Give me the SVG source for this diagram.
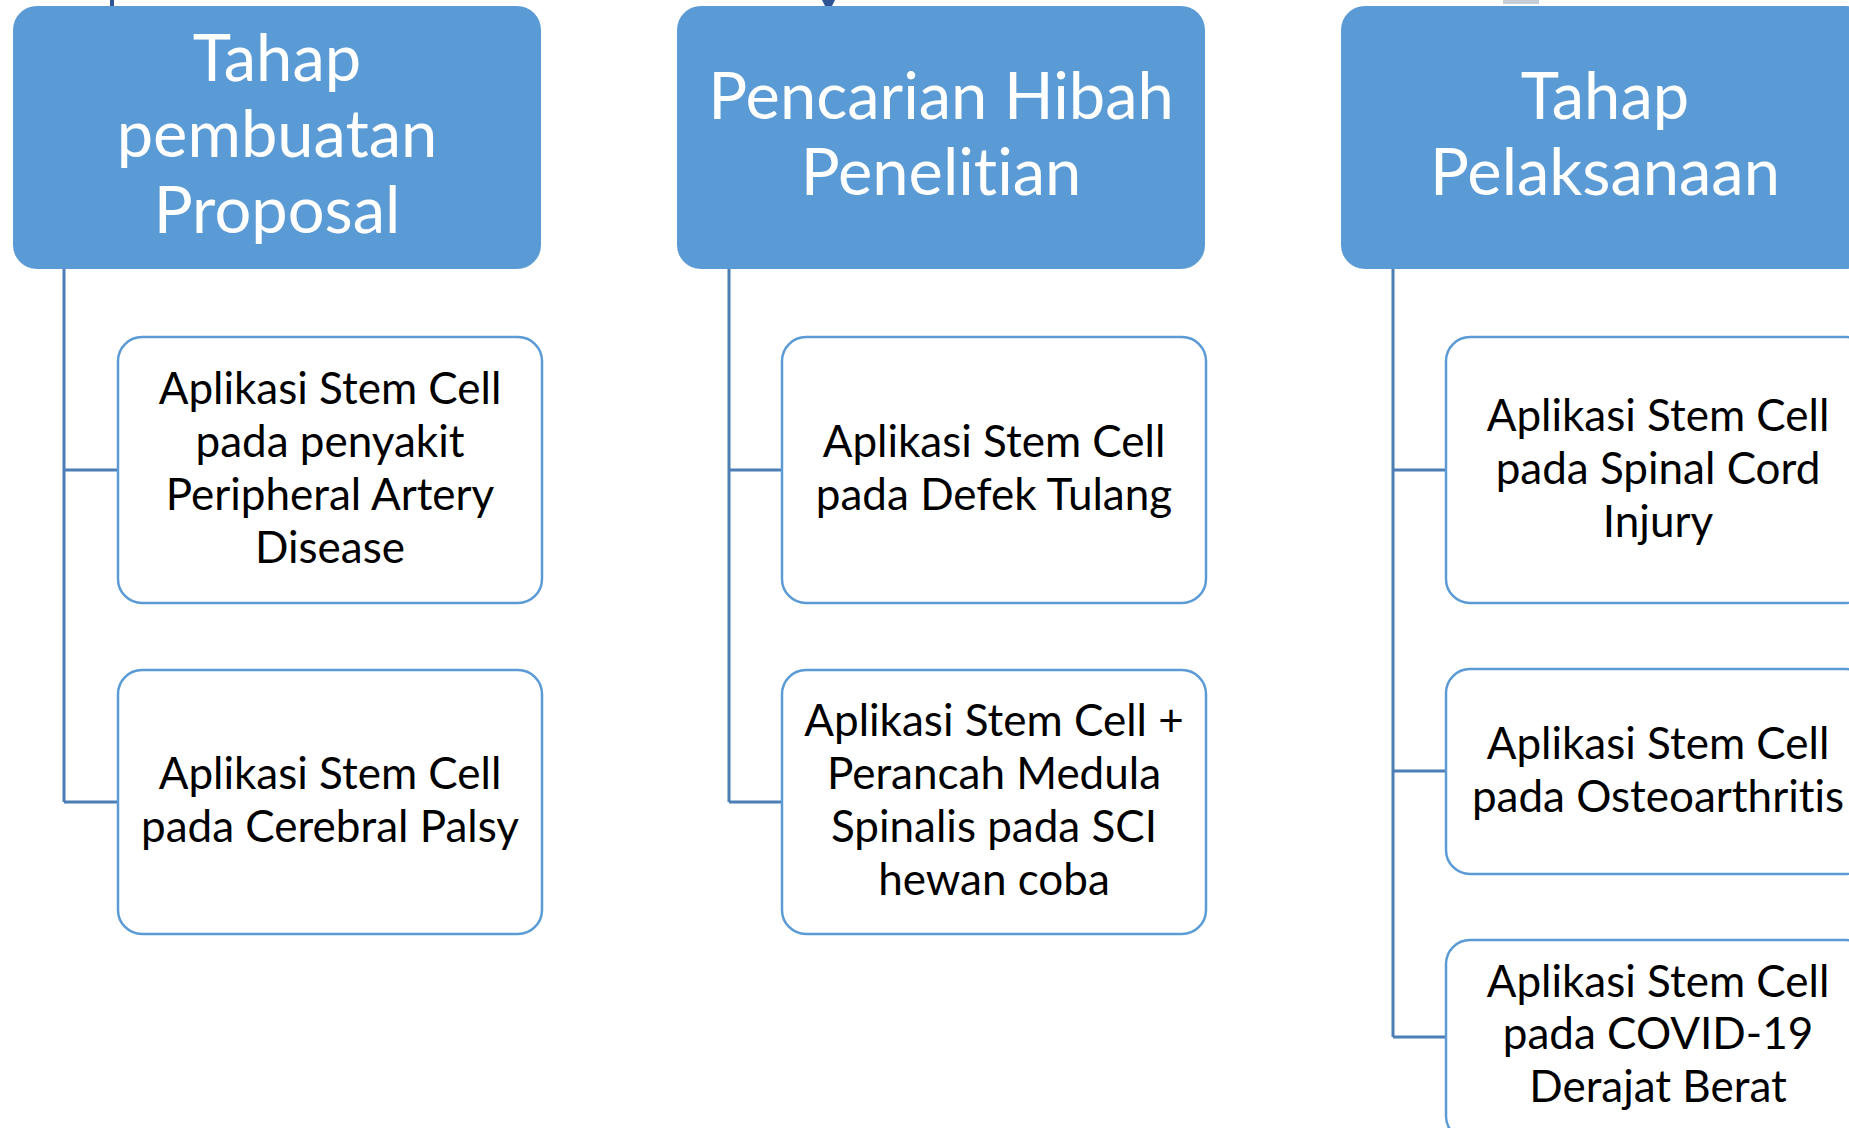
<svg xmlns="http://www.w3.org/2000/svg" width="1849" height="1128" viewBox="0 0 1849 1128">
<style>
.hdr{fill:#5B9BD5;}
.ht{font-family:Lato,"Liberation Sans",sans-serif;font-size:65px;fill:#FFFFFF;text-anchor:middle;font-variant-ligatures:none;}
.box{fill:#FFFFFF;stroke:#5B9BD5;stroke-width:2.5;}
.bt{font-family:Lato,"Liberation Sans",sans-serif;font-size:44px;fill:#000000;text-anchor:middle;font-variant-ligatures:none;}
.con{fill:none;stroke:#4A7EB5;stroke-width:3;}
</style>
<rect width="1849" height="1128" fill="#FFFFFF"/>
<g id="fragments">
<rect x="110" y="0" width="4" height="9" fill="#2F5496"/>
<path d="M822 0 L826 8 L831 8 L835 0 Z" fill="#2F5496"/>
<rect x="1503" y="0" width="36" height="4" fill="#C8CED6"/>
</g>
<g id="connectors">
<path class="con" d="M64 269 V802 M64 470 H118 M64 802 H118"/>
<path class="con" d="M729 269 V802 M729 470 H782 M729 802 H782"/>
<path class="con" d="M1393 269 V1037 M1393 470 H1446 M1393 771 H1446 M1393 1037 H1446"/>
</g>
<g id="h1">
<rect class="hdr" x="13" y="6" width="528" height="263" rx="24"/>
<text class="ht" x="277" y="81">Tahap</text>
<text class="ht" x="277" y="157">pembuatan</text>
<text class="ht" x="277" y="233">Proposal</text>
</g>
<g id="h2">
<rect class="hdr" x="677" y="6" width="528" height="263" rx="24"/>
<text class="ht" x="941" y="119">Pencarian Hibah</text>
<text class="ht" x="941" y="195">Penelitian</text>
</g>
<g id="h3">
<rect class="hdr" x="1341" y="6" width="528" height="263" rx="24"/>
<text class="ht" x="1605" y="119">Tahap</text>
<text class="ht" x="1605" y="195">Pelaksanaan</text>
</g>
<g id="c1a">
<rect class="box" x="118" y="337" width="424" height="266" rx="24"/>
<text class="bt" x="330" y="404">Aplikasi Stem Cell</text>
<text class="bt" x="330" y="457">pada penyakit</text>
<text class="bt" x="330" y="510">Peripheral Artery</text>
<text class="bt" x="330" y="563">Disease</text>
</g>
<g id="c1b">
<rect class="box" x="118" y="670" width="424" height="264" rx="24"/>
<text class="bt" x="330" y="789">Aplikasi Stem Cell</text>
<text class="bt" x="330" y="842">pada Cerebral Palsy</text>
</g>
<g id="c2a">
<rect class="box" x="782" y="337" width="424" height="266" rx="24"/>
<text class="bt" x="994" y="457">Aplikasi Stem Cell</text>
<text class="bt" x="994" y="510">pada Defek Tulang</text>
</g>
<g id="c2b">
<rect class="box" x="782" y="670" width="424" height="264" rx="24"/>
<text class="bt" x="994" y="736">Aplikasi Stem Cell +</text>
<text class="bt" x="994" y="789">Perancah Medula</text>
<text class="bt" x="994" y="842">Spinalis pada SCI</text>
<text class="bt" x="994" y="895">hewan coba</text>
</g>
<g id="c3a">
<rect class="box" x="1446" y="337" width="424" height="266" rx="24"/>
<text class="bt" x="1658" y="431">Aplikasi Stem Cell</text>
<text class="bt" x="1658" y="484">pada Spinal Cord</text>
<text class="bt" x="1658" y="537">Injury</text>
</g>
<g id="c3b">
<rect class="box" x="1446" y="669" width="424" height="205" rx="24"/>
<text class="bt" x="1658" y="759">Aplikasi Stem Cell</text>
<text class="bt" x="1658" y="812">pada Osteoarthritis</text>
</g>
<g id="c3c">
<rect class="box" x="1446" y="940" width="424" height="200" rx="24"/>
<text class="bt" x="1658" y="997">Aplikasi Stem Cell</text>
<text class="bt" x="1658" y="1049">pada COVID-19</text>
<text class="bt" x="1658" y="1102">Derajat Berat</text>
</g>
</svg>
